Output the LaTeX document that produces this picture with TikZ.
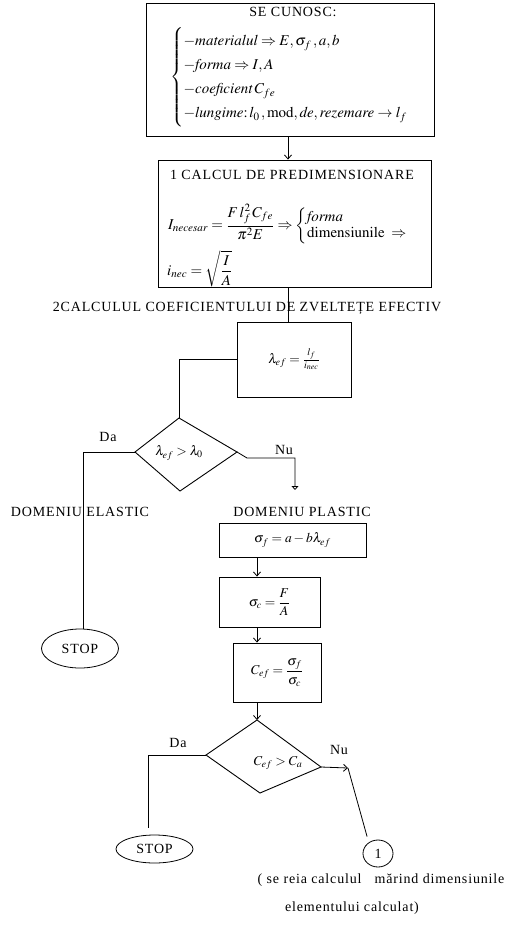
\documentclass[tikz,border=0pt]{standalone}
\usepackage{amsmath}
\usepackage{mathptmx}
\usepackage[no-math]{fontspec}
\setmainfont{Liberation Serif}
\newfontfamily\capsfont[LetterSpace=6]{Liberation Serif}
\usetikzlibrary{arrows.meta,shapes.geometric}
\tikzset{
  box/.style={draw,line width=0.9pt,inner sep=0pt},
  mth/.style={inner sep=0pt,font=\fontsize{13.5}{16}\selectfont},
  mthbig/.style={inner sep=0pt,font=\fontsize{15}{16}\selectfont},
  lbl/.style={inner sep=0pt,font=\capsfont\fontsize{14}{16}\selectfont},
  conn/.style={line width=0.8pt},
  arr/.style={line width=0.8pt,-{Straight Barb[length=4pt,width=7pt]}},
  gnd/.style={line width=0.8pt,-{Triangle[open,length=4pt,width=7pt]}},
  oval/.style={draw,ellipse,line width=0.8pt,inner sep=0pt,font=\capsfont\fontsize{14}{16}\selectfont},
  dia/.style={line width=0.9pt}
}
\begin{document}
\begin{tikzpicture}[x=1pt,y=-1pt]
\useasboundingbox (0,0) rectangle (522,926);
% helper columns
\coordinate (a1) at (288,0);
\coordinate (a2) at (257,0);
\coordinate (e1) at (83,0);
\coordinate (e2) at (148,0);

% Box 1
\node[box,minimum width=288,minimum height=133] (known) at (290,69.5) {};
\node[lbl] (t1) at (293,12) {SE CUNOSC:};
\node[mthbig,anchor=west] (k1) at (170,77) {\def\arraystretch{1.5}$\left\{\begin{array}{@{}l@{}}
 -\mathit{materialul}\Rightarrow E,\sigma_f\,,a,b\\
 -\mathit{forma}\Rightarrow I,A\\
 -\mathit{coeficient}\,C_{fe}\\
 -\mathit{lungime}{:}\,l_0\,,\mathrm{mod},\mathit{de},\mathit{rezemare}\rightarrow l_f
 \end{array}\right.$};

% Box 2
\node[box,minimum width=273,minimum height=127] (pre) at (294.5,223.5) {};
\node[lbl] (t2) at (292,175) {1 CALCUL DE PREDIMENSIONARE};
\node[mthbig,anchor=west] (f2) at (168,224) {$\displaystyle I_{\mathit{necesar}}=\frac{F\,l_f^2\,C_{fe}}{\pi^2E}\Rightarrow\left\{\begin{array}{@{}l@{}}\mathit{forma}\\ \mathrm{dimensiunile}\;\Rightarrow\end{array}\right.$};
\node[mthbig,anchor=west] (f3) at (167,269) {$\displaystyle i_{\mathit{nec}}=\sqrt{\frac{I}{A}}$};

% Title 2
\node[lbl] (t3) at (247,308) {2CALCULUL COEFICIENTULUI DE ZVELTEȚE EFECTIV};

% lambda box
\node[box,minimum width=114,minimum height=75,mth] (lam) at (294,359.5) {$\lambda_{ef}=\frac{l_f}{i_{\mathit{nec}}}$};

% Diamond 1
\coordinate (d1t) at (179,418);
\coordinate (d1r) at (237,452);
\coordinate (d1b) at (180,491);
\coordinate (d1l) at (135,452);
\draw[dia] (d1t) -- (d1r) -- (d1b) -- (d1l) -- cycle;
\node[mth] (d1txt) at (179,453) {$\lambda_{ef}>\lambda_0$};
\node[lbl] (da1) at (108,437) {Da};
\node[lbl] (nu1) at (284,450) {Nu};
\coordinate (g1) at (295,490);

\node[lbl] (dele) at (80,512) {DOMENIU ELASTIC};
\node[lbl] (dpla) at (302,512) {DOMENIU PLASTIC};

% Plastic chain
\node[box,minimum width=147,minimum height=34,mth] (sf) at (292.5,540) {$\sigma_f=a-b\lambda_{ef}$};
\node[box,minimum width=101,minimum height=50,mth] (sc) at (269.5,602) {$\sigma_c=\dfrac{F}{A}$};
\node[box,minimum width=88,minimum height=59,mth] (ce) at (277,672.5) {$C_{ef}=\dfrac{\sigma_f}{\sigma_c}$};

% STOP 1
\node[oval,minimum width=77,minimum height=39] (stop1) at (80,648.5) {STOP};

% Diamond 2
\coordinate (d2t) at (257,720);
\coordinate (d2l) at (206,755);
\coordinate (d2b) at (260,793);
\coordinate (d2r) at (321,767);
\draw[dia] (d2t) -- (d2r) -- (d2b) -- (d2l) -- cycle;
\node[mth] (d2txt) at (278,763) {$C_{ef}>C_a$};
\node[lbl] (da2) at (178,743) {Da};
\node[lbl] (nu2) at (339,750) {Nu};
\coordinate (n2) at (348,768);

\node[oval,minimum width=77,minimum height=28] (stop2) at (154.5,849) {STOP};
\node[oval,minimum width=30,minimum height=27] (one) at (378,853.5) {1};

\node[lbl] (note1) at (381,880) {( se reia calculul\ \ \ mărind dimensiunile};
\node[lbl] (note2) at (352,908) {elementului calculat)};

% Connectors
\draw[arr] (known.south -| a1) -- (pre.north -| a1);
\draw[conn] (pre.south -| a1) -- (lam.north -| a1);
\draw[conn] (lam.west) -- (lam.west -| d1t) -- (d1t);
\draw[conn] (d1l) -- (d1l -| e1) -- (stop1.north -| e1);
\draw[gnd] (d1r) -- ++(10,6) -- (g1 |- 0,458) -- (g1);
\draw[arr] (sf.south -| a2) -- (sc.north -| a2);
\draw[arr] (sc.south -| a2) -- (ce.north -| a2);
\draw[arr] (ce.south -| a2) -- (d2t);
\draw[conn,shorten >=7pt] (d2l) -- (d2l -| e2) -- (stop2.north -| e2);
\draw[arr] (d2r) -- (n2);
\draw[conn,shorten >=6pt] (n2) -- (one.130);
\end{tikzpicture}
\end{document}
